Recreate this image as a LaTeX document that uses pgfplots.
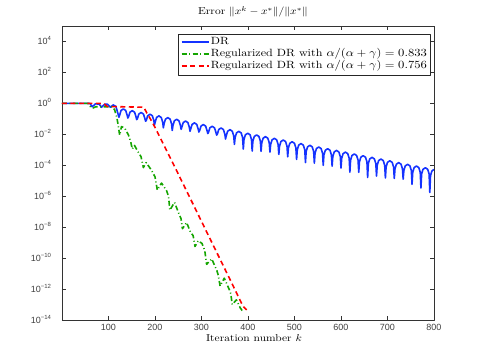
\documentclass[border=0pt]{standalone}
\usepackage{fontspec}
\setsansfont{Liberation Sans}
\usepackage{graphicx}
\usepackage{pgfplots}
\pgfplotsset{compat=1.18}
\definecolor{drblue}{RGB}{20,50,255}
\definecolor{rgreen}{RGB}{20,165,0}
\definecolor{rred}{RGB}{255,0,0}
\newcommand{\tk}[1]{10\textsuperscript{#1}}
\newcommand{\wide}[1]{\scalebox{1.15}[1]{#1}}

\begin{document}
\begin{tikzpicture}[x=1pt,y=1pt]
\begin{axis}[
  at={(0,0)}, anchor=south west,
  scale only axis, width=372pt, height=294pt,
  xmin=0, xmax=800, ymode=log, ymin=1e-14, ymax=1e5,
  xtick={100,200,...,800},
  xticklabels={100,200,300,400,500,600,700,800},
  ytick={1e-14,1e-12,1e-10,1e-8,1e-6,1e-4,1e-2,1,1e2,1e4},
  yticklabels={\tk{−14},\tk{−12},\tk{−10},\tk{−8},\tk{−6},\tk{−4},\tk{−2},\tk{0},\tk{2},\tk{4}},
  yminorticks=false,
  tick label style={font=\sffamily\fontsize{9}{10}\selectfont, text=black!75},
  xticklabel style={anchor=base, yshift=-11pt},
  yticklabel style={anchor=base east, xshift=-7pt, yshift=-3.2pt},
  major tick length=4pt,
  tick style={black!80, line width=0.5pt},
  axis line style={black!80, line width=0.6pt},
  tick pos=both,
  title={\wide{Error $\|x^k-x^*\|/\|x^*\|$}},
  title style={at={(axis description cs:0.5,1)}, anchor=base, yshift=5.3pt, xshift=5pt, font=\fontsize{10}{12}\selectfont},
  xlabel={\wide{Iteration number $k$}},
  xlabel style={at={(axis description cs:0.5,0)}, anchor=base, yshift=-21.7pt, xshift=6pt, font=\fontsize{10}{12}\selectfont},
  legend style={at={(1,1)}, anchor=north east, xshift=-3.3pt, yshift=-7.5pt,
    draw=black!85, inner xsep=3pt, inner ysep=2.5pt,
    font=\fontsize{10.5}{12}\selectfont,
    nodes={inner sep=0.6pt, text height=7.5pt, text depth=3.3pt},
    row sep=0pt, column sep=1pt, cells={anchor=west}},
  legend image code/.code={\draw[#1, line width=1.6pt] (0pt,0pt) -- (27pt,0pt);},
  line join=round,
]
% DR
\addplot[drblue, line width=1.6pt] coordinates {
(0,1) (60,1) (65,6.03e-1) (72,9.33e-1) (80,8.91e-1) (85,5.62e-1) (92,8.91e-1) (98,8.71e-1) (104,5.62e-1) (110,7.94e-1) (116,6.31e-1)
(122.5,1.26e-1) (124,1.74e-1) (127,3.47e-1) (132,4.37e-1) (137,3.47e-1) (140.1,1.74e-1)
(141.6,1.12e-1) (143.1,1.35e-1) (146.1,2.69e-1) (151.1,3.39e-1) (156.1,2.69e-1) (159.2,1.35e-1)
(160.7,8.91e-2) (162.2,1.02e-1) (165.2,2.04e-1) (170.2,2.57e-1) (175.2,2.04e-1) (178.3,1.02e-1)
(179.8,7.08e-2) (181.3,7.94e-2) (184.3,1.58e-1) (189.3,2.00e-1) (194.3,1.58e-1) (197.4,7.94e-2)
(198.9,3.98e-2) (200.4,6.17e-2) (203.4,1.23e-1) (208.4,1.55e-1) (213.4,1.23e-1) (216.5,6.17e-2)
(218,2.63e-2) (219.5,4.79e-2) (222.5,9.55e-2) (227.5,1.20e-1) (232.5,9.55e-2) (235.6,4.79e-2)
(237.1,1.78e-2) (238.6,3.72e-2) (241.6,7.41e-2) (246.6,9.33e-2) (251.6,7.41e-2) (254.7,3.72e-2)
(256.2,2.09e-2) (257.7,2.88e-2) (260.7,5.75e-2) (265.7,7.24e-2) (270.7,5.75e-2) (273.8,2.88e-2)
(275.3,1.58e-2) (276.8,2.19e-2) (279.8,4.37e-2) (284.8,5.50e-2) (289.8,4.37e-2) (292.9,2.19e-2)
(294.4,1.41e-2) (295.9,1.70e-2) (298.9,3.39e-2) (303.9,4.27e-2) (308.9,3.39e-2) (312.0,1.70e-2)
(313.5,1.12e-2) (315.0,1.32e-2) (318.0,2.63e-2) (323.0,3.31e-2) (328.0,2.63e-2) (331.1,1.32e-2)
(332.6,8.91e-3) (334.1,1.02e-2) (337.1,2.04e-2) (342.1,2.57e-2) (347.1,2.04e-2) (350.2,1.02e-2)
(351.7,5.01e-3) (353.2,7.94e-3) (356.2,1.58e-2) (361.2,2.00e-2) (366.2,1.58e-2) (369.3,7.94e-3)
(370.8,2.24e-3) (372.3,6.17e-3) (375.3,1.23e-2) (380.3,1.55e-2) (385.3,1.23e-2) (388.4,6.17e-3)
(389.9,1.12e-3) (391.4,4.68e-3) (394.4,9.33e-3) (399.4,1.17e-2) (404.4,9.33e-3) (407.5,4.68e-3)
(409.0,8.32e-4) (410.5,3.63e-3) (413.5,7.24e-3) (418.5,9.12e-3) (423.5,7.24e-3) (426.6,3.63e-3)
(428.1,7.94e-4) (429.6,2.82e-3) (432.6,5.62e-3) (437.6,7.08e-3) (442.6,5.62e-3) (445.7,2.82e-3)
(447.2,7.08e-4) (448.7,2.19e-3) (451.7,4.37e-3) (456.7,5.50e-3) (461.7,4.37e-3) (464.8,2.19e-3)
(466.3,5.01e-4) (467.8,1.70e-3) (470.8,3.39e-3) (475.8,4.27e-3) (480.8,3.39e-3) (483.9,1.70e-3)
(485.4,3.55e-4) (486.9,1.32e-3) (489.9,2.63e-3) (494.9,3.31e-3) (499.9,2.63e-3) (503.0,1.32e-3)
(504.5,2.40e-4) (506.0,1.00e-3) (509.0,2.00e-3) (514.0,2.51e-3) (519.0,2.00e-3) (522.1,1.00e-3)
(523.6,1.51e-4) (525.1,7.76e-4) (528.1,1.55e-3) (533.1,1.95e-3) (538.1,1.55e-3) (541.2,7.76e-4)
(542.7,1.35e-4) (544.2,6.03e-4) (547.2,1.20e-3) (552.2,1.51e-3) (557.2,1.20e-3) (560.3,6.03e-4)
(561.8,1.00e-4) (563.3,4.68e-4) (566.3,9.33e-4) (571.3,1.17e-3) (576.3,9.33e-4) (579.4,4.68e-4)
(580.9,8.71e-5) (582.4,3.63e-4) (585.4,7.24e-4) (590.4,9.12e-4) (595.4,7.24e-4) (598.5,3.63e-4)
(600.0,6.61e-5) (601.5,2.82e-4) (604.5,5.62e-4) (609.5,7.08e-4) (614.5,5.62e-4) (617.6,2.82e-4)
(619.1,3.55e-5) (620.6,2.14e-4) (623.6,4.27e-4) (628.6,5.37e-4) (633.6,4.27e-4) (636.7,2.14e-4)
(638.2,3.55e-5) (639.7,1.66e-4) (642.7,3.31e-4) (647.7,4.17e-4) (652.7,3.31e-4) (655.8,1.66e-4)
(657.3,1.62e-5) (658.8,1.29e-4) (661.8,2.57e-4) (666.8,3.24e-4) (671.8,2.57e-4) (674.9,1.29e-4)
(676.4,2.00e-5) (677.9,1.00e-4) (680.9,2.00e-4) (685.9,2.51e-4) (690.9,2.00e-4) (694.0,1.00e-4)
(695.5,1.51e-5) (697.0,7.76e-5) (700.0,1.55e-4) (705.0,1.95e-4) (710.0,1.55e-4) (713.1,7.76e-5)
(714.6,1.41e-5) (716.1,5.89e-5) (719.1,1.17e-4) (724.1,1.48e-4) (729.1,1.17e-4) (732.2,5.89e-5)
(733.7,1.26e-5) (735.2,4.57e-5) (738.2,9.12e-5) (743.2,1.15e-4) (748.2,9.12e-5) (751.3,4.57e-5)
(752.8,5.89e-6) (754.3,3.55e-5) (757.3,7.08e-5) (762.3,8.91e-5) (767.3,7.08e-5) (770.4,3.55e-5)
(771.9,3.39e-6) (773.4,2.75e-5) (776.4,5.50e-5) (781.4,6.92e-5) (786.4,5.50e-5) (789.5,2.75e-5)
(791.0,1.74e-6) (792.5,2.14e-5) (795.5,4.27e-5) (800,5.37e-5)
};
\addlegendentry{\wide{DR}}
% regularized DR, 0.833
\addplot[rgreen, line width=1.6pt, dash pattern=on 5pt off 2.5pt on 1pt off 2.5pt] coordinates {
(0,1) (56,1) (62,5.62e-1) (67,5.01e-1) (72,6.03e-1) (108,6.03e-1) (113,3.98e-1)
(118,1.20e-1) (121,3.55e-2) (124,8.91e-3) (128,3.16e-2) (135,2.51e-2) (143,8.91e-3)
(148,3.16e-3) (151,1.12e-3) (156,1.91e-3) (162,8.91e-4) (170,3.55e-4) (175,7.08e-5)
(181,1.48e-4) (192,5.01e-5) (200,1.78e-5) (205,2.51e-6) (214,7.08e-6) (225,2.24e-6)
(229,1.00e-6) (232,1.26e-7) (242,3.98e-7) (251,7.94e-8) (256,3.55e-8) (259,7.94e-9)
(268,2.00e-8) (276,5.01e-9) (282,2.82e-9) (286,5.62e-10) (293,1.32e-9) (301,8.91e-10)
(307,3.16e-10) (311,3.98e-11) (322,8.91e-11) (333,1.58e-11) (336,7.94e-12) (340,1.58e-12)
(349,5.01e-12) (360,8.91e-13) (363,5.01e-13) (366,1.00e-13) (375,2.00e-13) (383,6.31e-14)
(390,3.16e-14)
};
\addlegendentry{\wide{Regularized DR with $\alpha/(\alpha+\gamma)=0.833$}\hspace{4pt}}
% regularized DR, 0.756
\addplot[rred, line width=1.6pt, dash pattern=on 5pt off 3.5pt] coordinates {
(0,1) (90,1) (97,6.31e-1) (176,5.62e-1) (182,2.51e-1) (190,1.00e-1) (200,2.82e-2)
(240,1.12e-4) (280,3.98e-7) (320,1.41e-9) (360,5.01e-12) (389,7.94e-14) (397,4.47e-14)
};
\addlegendentry{\wide{Regularized DR with $\alpha/(\alpha+\gamma)=0.756$}\hspace{4pt}}
\end{axis}
\pgfresetboundingbox
\path (-62,-41) rectangle (418,320);
\end{tikzpicture}
\end{document}
